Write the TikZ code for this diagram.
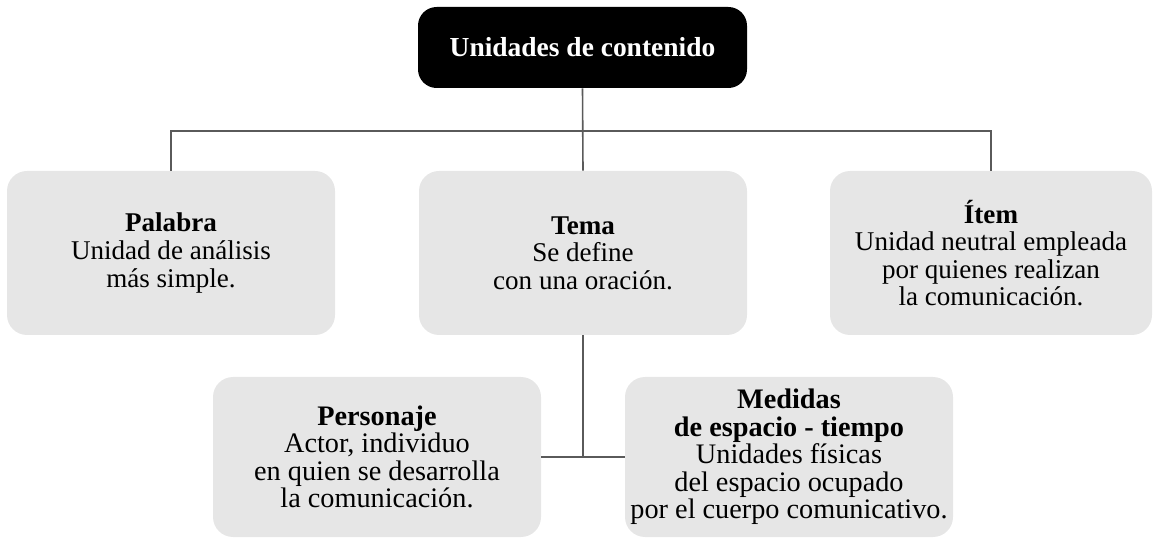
\documentclass[tikz,border=0pt]{standalone}
\usepackage{fontspec}
\setmainfont{Liberation Serif}
\begin{document}
\begin{tikzpicture}[x=0.75pt,y=-0.75pt,
  card/.style={fill=cardgrey,rounded corners=15pt,align=center,inner sep=0pt,
     minimum width=246pt,minimum height=123pt,
     font=\fontsize{20.3pt}{20.7pt}\selectfont},
  lowcard/.style={card,minimum height=120pt,font=\fontsize{21.2pt}{20.6pt}\selectfont},
  topbox/.style={fill=black,text=white,rounded corners=14pt,align=center,inner sep=0pt,
     minimum width=246.75pt,minimum height=60.75pt,
     font=\fontsize{20.6pt}{22pt}\selectfont\bfseries},
  link/.style={draw=linegrey,line width=1.2pt}]
\definecolor{cardgrey}{HTML}{E6E6E6}
\definecolor{linegrey}{HTML}{5A5A5A}
\useasboundingbox (0,0) rectangle (1154,538);
\node[topbox] (top) at (582.5,47.5) {Unidades de contenido};
\node[card] (palabra) at (171,253) {\textbf{Palabra}\\Unidad de análisis\\más simple.};
\node[card] (tema) at (583,253) {\textbf{Tema}\\Se define\\con una oración.};
\node[card,minimum width=241.5pt] (item) at (991,253) {\textbf{Ítem}\\Unidad neutral empleada\\por quienes realizan\\la comunicación.};
\node[lowcard] (personaje) at (377,457) {\textbf{Personaje}\\Actor, individuo\\en quien se desarrolla\\la comunicación.};
\node[lowcard] (medidas) at (789,457) {\textbf{Medidas}\\\textbf{de espacio - tiempo}\\Unidades físicas\\del espacio ocupado\\por el cuerpo comunicativo.};
\draw[link] (top.south) -- (tema.north);
\draw[link] (palabra.north) -- ++(0,-40) -| (item.north);
\draw[link] (tema.south) -- (tema.south |- personaje.east);
\draw[link] (personaje.east) -- (medidas.west);
\end{tikzpicture}
\end{document}
